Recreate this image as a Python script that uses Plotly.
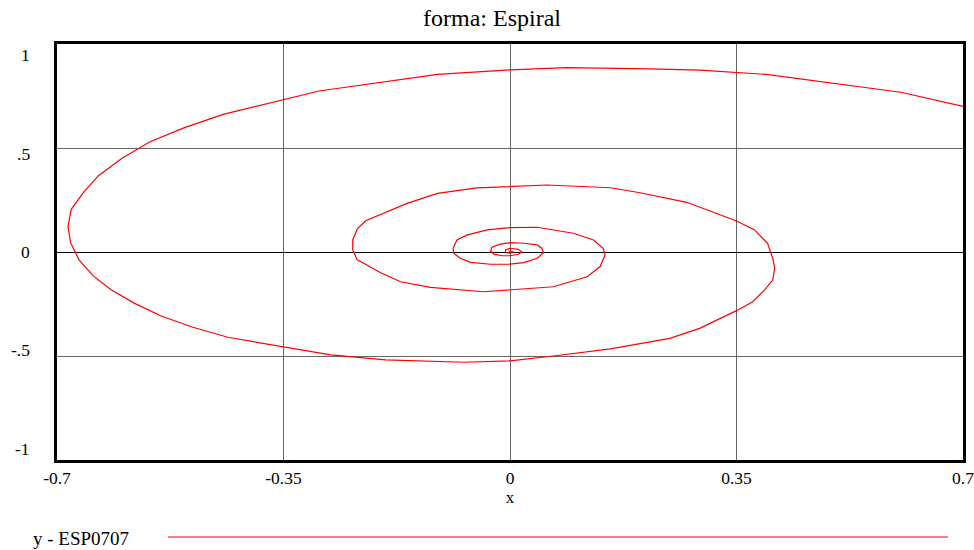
import plotly.graph_objects as go

# Trajectory of the spiral (x, y), starting at (0.7, 0.7) and winding into the origin
x_vals = [0.700, 0.604, 0.396, 0.293, 0.216, 0.088, 0.000, -0.112, -0.295, -0.442,
          -0.503, -0.557, -0.600, -0.636, -0.659, -0.678, -0.683, -0.679, -0.666, -0.644,
          -0.616, -0.580, -0.539, -0.490, -0.436, -0.349, -0.277, -0.192, -0.071, 0.000,
          0.067, 0.155, 0.247, 0.293, 0.350, 0.375, 0.393, 0.406, 0.409, 0.406,
          0.398, 0.378, 0.350, 0.273, 0.201, 0.155, 0.057, -0.051, -0.112, -0.159,
          -0.190, -0.223, -0.236, -0.243, -0.243, -0.236, -0.226, -0.200, -0.169, -0.123,
          -0.041, 0.067, 0.119, 0.139, 0.147, 0.144, 0.129, 0.098, 0.042, 0.000,
          -0.035, -0.066, -0.082, -0.088, -0.087, -0.077, -0.061, -0.030, 0.000, 0.021,
          0.042, 0.052, 0.049, 0.042, 0.021, 0.000, -0.015, -0.028, -0.030, -0.025,
          -0.012, 0.000, 0.013, 0.018, 0.013, 0.000, -0.007, -0.007, 0.000, 0.005,
          0.000, 0.000]
y_vals = [0.700, 0.768, 0.854, 0.874, 0.880, 0.886, 0.876, 0.854, 0.774, 0.663,
          0.598, 0.529, 0.450, 0.367, 0.287, 0.205, 0.122, 0.045, -0.038, -0.115,
          -0.183, -0.247, -0.308, -0.362, -0.410, -0.458, -0.495, -0.519, -0.530, -0.523,
          -0.500, -0.466, -0.415, -0.367, -0.282, -0.239, -0.183, -0.135, -0.078, -0.030,
          0.042, 0.106, 0.149, 0.239, 0.285, 0.309, 0.322, 0.308, 0.282, 0.234,
          0.194, 0.150, 0.111, 0.058, 0.010, -0.038, -0.054, -0.100, -0.143, -0.170,
          -0.191, -0.167, -0.119, -0.071, -0.014, 0.018, 0.058, 0.090, 0.119, 0.117,
          0.106, 0.082, 0.058, 0.018, -0.006, -0.030, -0.050, -0.059, -0.058, -0.051,
          -0.030, -0.003, 0.018, 0.034, 0.042, 0.045, 0.038, 0.023, 0.005, -0.010,
          -0.018, -0.018, -0.011, 0.001, 0.013, 0.018, 0.010, -0.001, -0.006, 0.001,
          0.006, 0.000]

x_ticks = [-0.7, -0.35, 0, 0.35, 0.7]
x_tick_text = ["-0.7", "-0.35", "0", "0.35", "0.7"]
y_ticks = [1, 0.5, 0, -0.5, -1]
y_tick_text = ["1", ".5", "0", "-.5", "-1"]

title_text = "forma: Espiral"
x_title = "x"
series_name = "y - ESP0707"

SERIF = "Liberation Serif, Times New Roman, serif"
RED = "#ff0000"
GRID = "#666666"

W, H = 974, 550
ML, MR, MT, MB = 57, 11, 44, 90
PW, PH = W - ML - MR, H - MT - MB

fig = go.Figure()
fig.add_trace(go.Scatter(x=x_vals, y=y_vals, mode="lines", name=series_name,
                         line=dict(color=RED, width=1.2), showlegend=False,
                         cliponaxis=True))

fig.update_layout(
    width=W, height=H,
    margin=dict(l=ML, r=MR, t=MT, b=MB, autoexpand=False),
    paper_bgcolor="white", plot_bgcolor="white",
    font=dict(family=SERIF, size=17.5, color="black"),
    title=dict(text=title_text, x=(492 - ML) / PW, xref="paper", xanchor="center",
               y=1 - 18 / H, yref="container", yanchor="middle",
               font=dict(family=SERIF, size=24, color="black")),
    showlegend=False,
)

fig.update_xaxes(range=[-0.7, 0.7], tickvals=x_ticks, ticktext=x_tick_text,
                 showgrid=True, gridcolor=GRID, gridwidth=1,
                 zeroline=True, zerolinecolor=GRID, zerolinewidth=1,
                 showline=True, linecolor="black", linewidth=3, mirror=True,
                 ticks="", ticklabeloverflow="allow",
                 automargin=False,
                 title=dict(text=x_title, standoff=2, font=dict(size=17)))

fig.update_yaxes(range=[-1, 1], tickvals=y_ticks, showticklabels=False,
                 showgrid=True, gridcolor=GRID, gridwidth=1,
                 zeroline=True, zerolinecolor="black", zerolinewidth=1,
                 showline=True, linecolor="black", linewidth=3, mirror=True,
                 automargin=False)

# y tick labels, pulled slightly toward the centre at the ends
for v, t in zip(y_ticks, y_tick_text):
    fig.add_annotation(x=0, xref="paper", y=v, yref="y", text=t, showarrow=False,
                       xanchor="right", yanchor="middle", xshift=-25,
                       yshift=-round(11 * v), font=dict(family=SERIF, size=17.5))

# legend row below the plot: series name followed by a long sample line
fig.add_annotation(x=0, xref="paper", xshift=31 - ML, y=-(538 - MT - PH) / PH,
                   yref="paper", text=series_name, showarrow=False,
                   xanchor="left", yanchor="middle",
                   font=dict(family=SERIF, size=19))
fig.add_shape(type="line", xref="paper", yref="paper",
              x0=(168 - ML) / PW, x1=(948 - ML) / PW,
              y0=-(537 - MT - PH) / PH, y1=-(537 - MT - PH) / PH,
              line=dict(color=RED, width=1.2))

fig.write_html("out.html")
